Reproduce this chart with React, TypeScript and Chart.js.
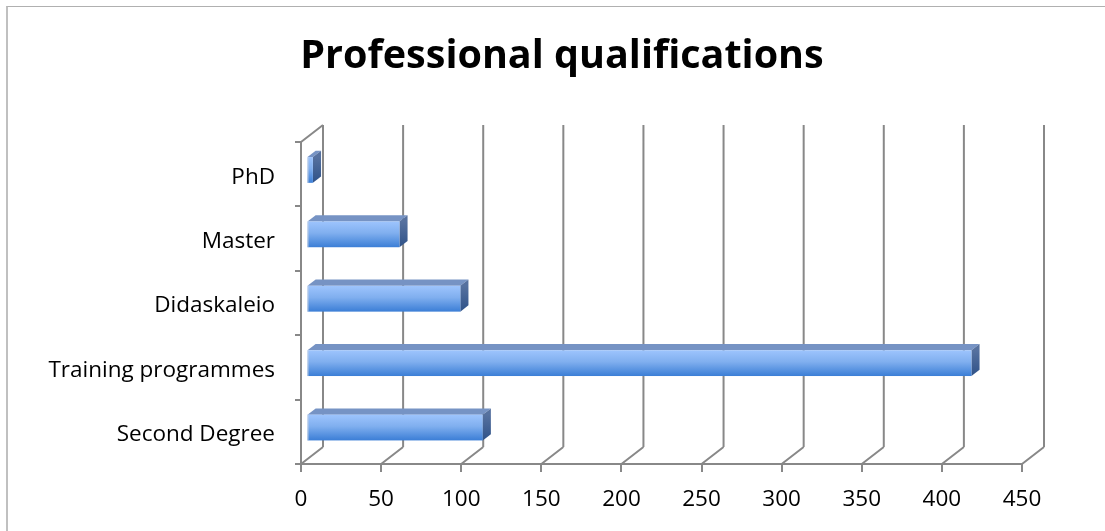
import React, { useEffect, useRef } from "react";
import { Chart, registerables } from "chart.js";

Chart.register(...registerables);

const categories = ["PhD", "Master", "Didaskaleio", "Training programmes", "Second Degree"];
const values = [4, 58, 96, 415, 110];
const xTicks = [0, 50, 100, 150, 200, 250, 300, 350, 400, 450];
const titleText = "Professional qualifications";

const DX = 22;
const DY = -17;
const D1 = 0.25;
const D2 = 0.62;
const GRID = "#888888";
const FONT = "'Open Sans', 'Noto Sans', sans-serif";

const titleDraw = {
  id: "titleDraw",
  afterDraw(chart: any) {
    const { ctx } = chart;
    ctx.save();
    ctx.fillStyle = "#000";
    ctx.font = `bold 39.5px ${FONT}`;
    ctx.textAlign = "center";
    ctx.textBaseline = "middle";
    ctx.fillText(titleText, 562, 57);
    ctx.restore();
  },
};

const threeD = {
  id: "threeD",
  beforeDatasetsDraw(chart: any) {
    const { ctx, chartArea } = chart;
    const xs = chart.scales.x;
    ctx.save();
    ctx.strokeStyle = GRID;
    ctx.lineWidth = 2;
    ctx.beginPath();
    for (const v of xTicks) {
      const px = xs.getPixelForValue(v);
      ctx.moveTo(px + DX, chartArea.top + DY);
      ctx.lineTo(px + DX, chartArea.bottom + DY);
      ctx.moveTo(px, chartArea.bottom);
      ctx.lineTo(px + DX, chartArea.bottom + DY);
    }
    ctx.moveTo(chartArea.left, chartArea.top);
    ctx.lineTo(chartArea.left + DX, chartArea.top + DY);
    ctx.stroke();
    ctx.restore();
  },
  afterDatasetsDraw(chart: any) {
    const { ctx } = chart;
    const meta = chart.getDatasetMeta(0);
    ctx.save();
    meta.data.forEach((el: any) => {
      const p = el.getProps(["x", "y", "base", "height"], true);
      const ox = D1 * DX;
      const oy = D1 * DY;
      const dx = (D2 - D1) * DX;
      const dy = (D2 - D1) * DY;
      const l = Math.min(p.base, p.x) + ox;
      const r = Math.max(p.base, p.x) + ox;
      const t = p.y - p.height / 2 + oy;
      const b = p.y + p.height / 2 + oy;
      // top face
      ctx.beginPath();
      ctx.moveTo(l, t);
      ctx.lineTo(r, t);
      ctx.lineTo(r + dx, t + dy);
      ctx.lineTo(l + dx, t + dy);
      ctx.closePath();
      ctx.fillStyle = "#7693c4";
      ctx.fill();
      // side face
      const sg = ctx.createLinearGradient(0, t, 0, b);
      sg.addColorStop(0, "#56719f");
      sg.addColorStop(1, "#2f5288");
      ctx.beginPath();
      ctx.moveTo(r, t);
      ctx.lineTo(r + dx, t + dy);
      ctx.lineTo(r + dx, b + dy);
      ctx.lineTo(r, b);
      ctx.closePath();
      ctx.fillStyle = sg;
      ctx.fill();
      // front face
      const fg = ctx.createLinearGradient(0, t, 0, b);
      fg.addColorStop(0, "#9dc4fd");
      fg.addColorStop(0.45, "#80afef");
      fg.addColorStop(1, "#3b7ed6");
      ctx.fillStyle = fg;
      ctx.fillRect(l, t, r - l, b - t);
      ctx.strokeStyle = "rgba(200,210,225,0.8)";
      ctx.lineWidth = 1;
      ctx.beginPath();
      ctx.moveTo(l + 0.5, t);
      ctx.lineTo(l + 0.5, b);
      ctx.stroke();
    });
    ctx.restore();
  },
};

export default function App() {
  const ref = useRef<HTMLCanvasElement | null>(null);
  useEffect(() => {
    if (!ref.current) return;
    const chart = new Chart(ref.current, {
      type: "bar",
      data: {
        labels: categories,
        datasets: [
          {
            data: values,
            backgroundColor: "rgba(0,0,0,0)",
            borderWidth: 0,
            categoryPercentage: 1,
            barPercentage: 0.4,
          },
        ],
      },
      plugins: [threeD, titleDraw],
      options: {
        indexAxis: "y",
        animation: false,
        responsive: false,
        events: [],
        layout: { padding: { top: 142, left: 0, right: 83, bottom: 0 } },
        plugins: {
          legend: { display: false },
          tooltip: { enabled: false },
          title: { display: false },
        },
        scales: {
          x: {
            type: "linear",
            min: 0,
            max: 450,
            afterFit: (s: any) => {
              s.height = 67;
            },
            afterBuildTicks: (s: any) => {
              s.ticks = xTicks.map((v) => ({ value: v }));
            },
            border: { display: true, color: GRID, width: 2 },
            grid: { drawOnChartArea: false, drawTicks: true, tickLength: 8, color: GRID, lineWidth: 2 },
            ticks: { color: "#000", font: { family: FONT, size: 22.5 }, padding: 14, maxRotation: 0 },
          },
          y: {
            type: "category",
            afterFit: (s: any) => {
              s.width = 301;
            },
            border: { display: true, color: GRID, width: 2 },
            grid: { drawOnChartArea: false, drawTicks: true, tickLength: 6, color: GRID, lineWidth: 2, offset: true },
            ticks: { color: "#000", font: { family: FONT, size: 22.5 }, padding: 20, labelOffset: 3 },
          },
        },
      },
    });
    return () => chart.destroy();
  }, []);
  return (
    <div style={{ position: "fixed", left: 0, top: 0, width: 1105, height: 531, background: "#fff", overflow: "hidden" }}>
      <div
        style={{
          position: "absolute",
          left: 6,
          top: 6,
          width: 1110,
          height: 540,
          borderLeft: "2px solid #c0c0c0",
          borderTop: "1px solid #b0b0b0",
        }}
      />
      <canvas ref={ref} width={1105} height={531} style={{ position: "absolute", left: 0, top: 0, display: "block" }} />
    </div>
  );
}
